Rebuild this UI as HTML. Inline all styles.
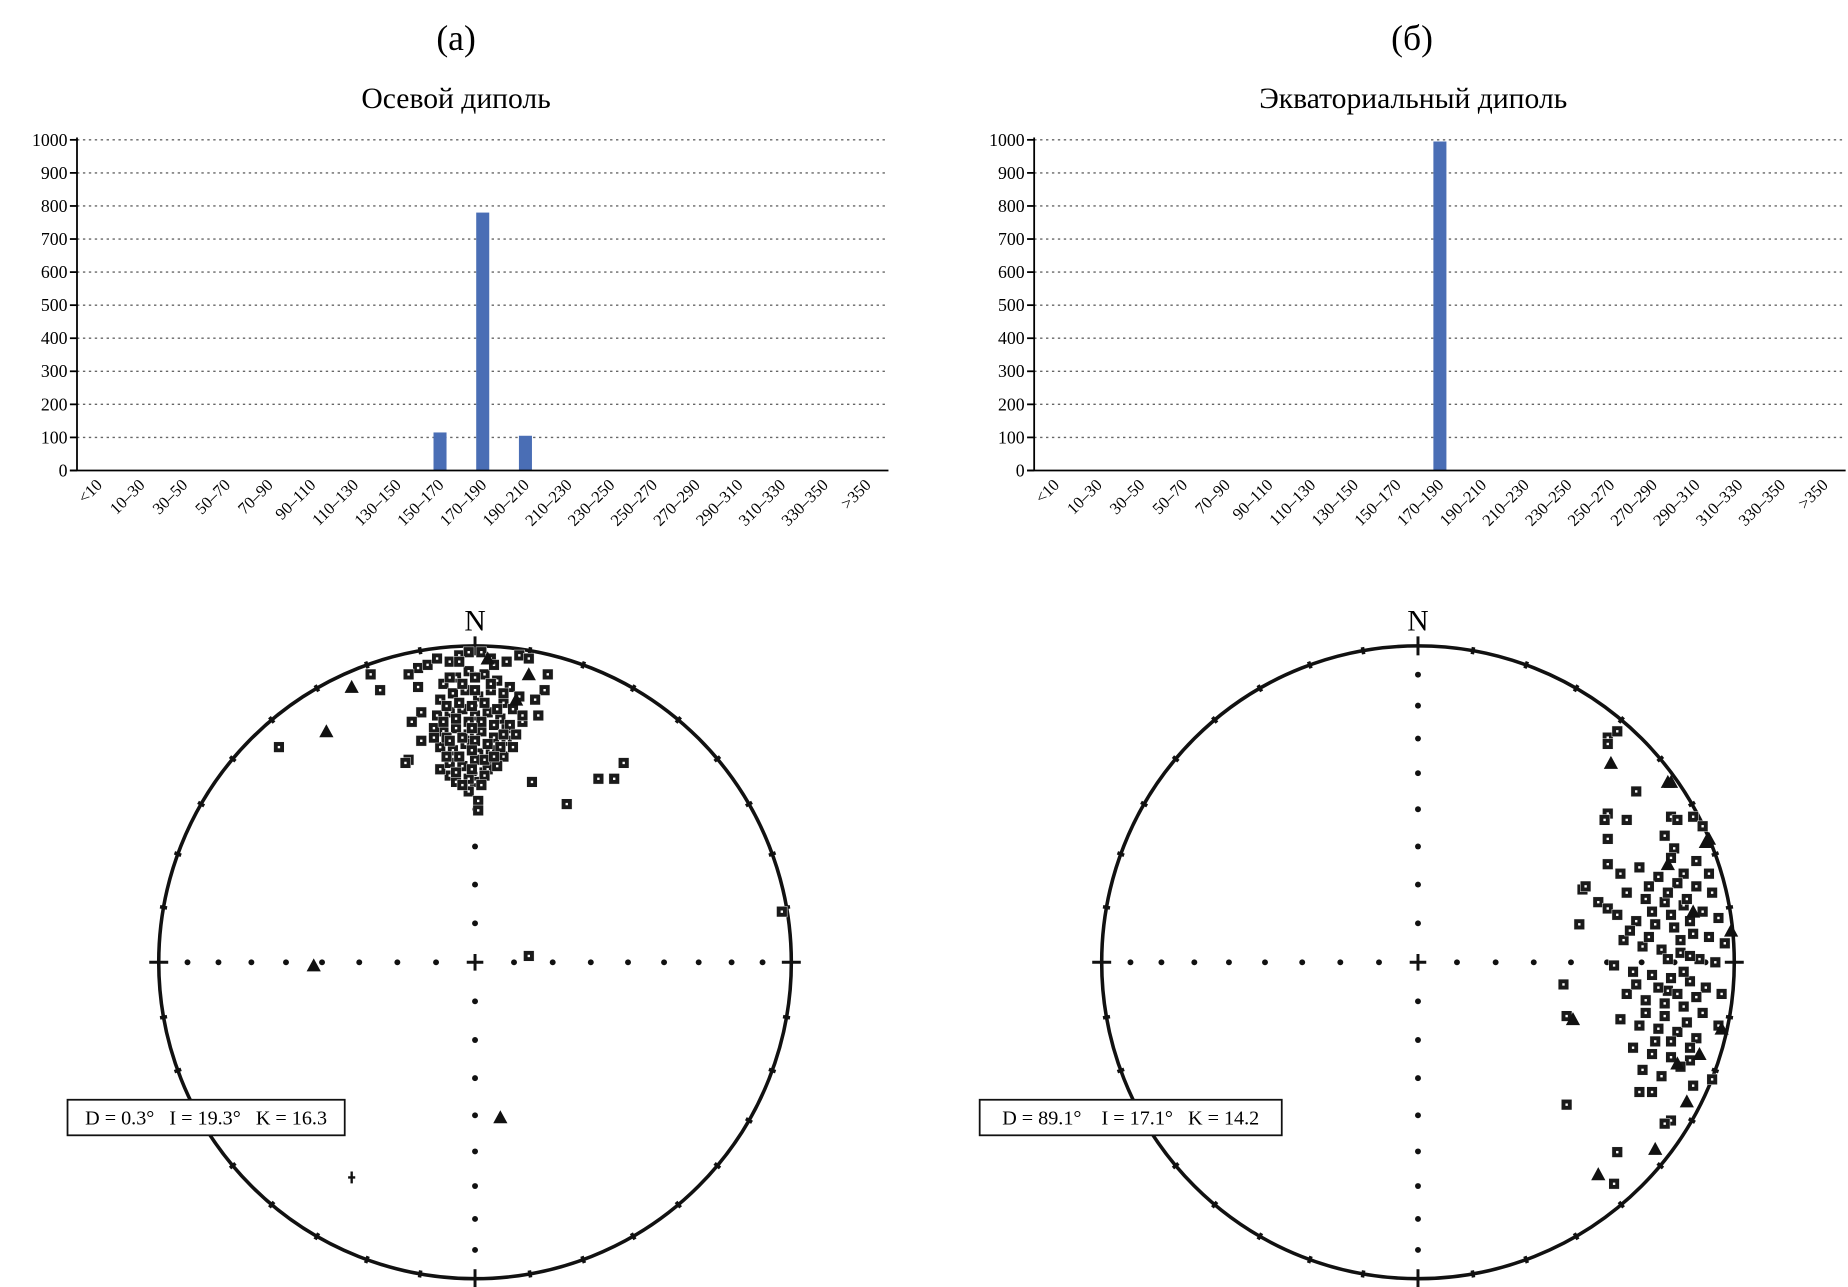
<!DOCTYPE html>
<html><head><meta charset="utf-8"><style>
html,body{margin:0;padding:0;background:#fff;}
svg{display:block;font-family:"Liberation Serif",serif;}
</style></head><body>
<svg id="fig" width="1848" height="1287" viewBox="0 0 1560 1086" preserveAspectRatio="none" xmlns="http://www.w3.org/2000/svg">
<text x="385" y="42" font-size="30" text-anchor="middle">(a)</text>
<text x="1192" y="42" font-size="30" text-anchor="middle">(б)</text>
<text x="385" y="91" font-size="25" text-anchor="middle">Осевой диполь</text>
<text x="1193" y="91" font-size="25" text-anchor="middle">Экваториальный диполь</text>
<g id="charts"></g>
<g id="nets"></g>
</svg>
<script>
const categories = ["<10","10–30","30–50","50–70","70–90","90–110","110–130","130–150","150–170","170–190","190–210","210–230","230–250","250–270","270–290","290–310","310–330","330–350",">350"];
const valuesA = [0,0,0,0,0,0,0,0,115,780,105,0,0,0,0,0,0,0,0];
const valuesB = [0,0,0,0,0,0,0,0,0,995,0,0,0,0,0,0,0,0,0];
const yTicks = [0,100,200,300,400,500,600,700,800,900,1000];

// stereonet points in projection units (radius = 100), [east, north]
const squaresA = [[-62,68],[-21,64],[-22,63],[-18,93],[-15,94],[-12,96],[-8,95],[-5,97],[-2,98],[2,98],[5,96],[10,95],[14,97],[17,96],[23,91],[22,86],[19,83],[20,78],[15,76],[10,74],[6,64],[3,60],[0,57],[-2,54],[1,51],[1,48],[-8,59],[-11,61],[-6,57],[18,57],[29,50],[39,58],[44,58],[47,63],[97,16],[17,2],[-33,91],[-30,86],[-21,91],[-18,87],[-17,79],[-20,76],[-17,70],
[-10,88],[-6,90],[-2,92],[3,91],[7,89],[11,87],[-11,83],[-7,85],[-3,86],[1,84],[5,86],[9,82],[12,80],[-12,78],[-8,79],[-4,80],[0,78],[4,79],[8,77],[11,75],[-10,73],[-6,74],[-2,72],[2,73],[6,71],[10,70],[13,72],[-11,68],[-7,67],[-3,69],[1,66],[5,67],[9,65],[-8,63],[-4,62],[0,64],[4,61],[7,62],[-2,58],[3,59],[-9,71],[14,84],[-13,74],[15,78],[-5,95],[6,94],
[-8,90],[-4,88],[0,90],[5,88],[9,85],[-9,81],[-5,82],[-1,81],[3,82],[7,80],[-10,76],[-6,77],[-2,76],[2,76],[6,75],[9,72],[-8,70],[-4,71],[0,70],[4,69],[8,68],[-9,65],[-5,65],[-1,67],[3,64],[6,65],[-6,60],[-1,61],[2,56],[-4,56],[12,68],[-13,71],[0,86],[-1,74]];
const trianglesA = [[-39,87],[-47,73],[4,96],[17,91],[13,83],[-51,-1],[8,-49]];
const crossesA = [[-39,-68]];
const squaresB = [[60,71],[60,69],[63,73],[69,54],[60,47],[59,45],[66,45],[60,39],[60,31],[80,46],[82,45],[87,46],[90,43],[78,40],[81,36],[80,33],[88,32],[84,28],[52,23],[53,24],[57,19],[60,17],[51,12],[46,-7],[47,-17],[47,-45],[63,-60],[62,-70],[80,-50],[78,-51],[74,-41],[70,-41],[87,-39],[93,-37],
[64,28],[70,30],[76,27],[82,25],[88,24],[93,22],[66,22],[72,20],[78,19],[84,18],[90,16],[95,14],[63,15],[69,13],[75,12],[81,11],[87,9],[92,8],[97,6],[65,7],[71,5],[77,4],[83,3],[89,1],[94,0],[62,-1],[68,-3],[74,-4],[80,-5],[86,-6],[91,-8],[96,-10],[66,-10],[72,-12],[78,-13],[84,-14],[90,-16],[64,-18],[70,-20],[76,-21],[82,-22],[88,-24],[68,-27],[74,-29],[80,-30],[86,-31],[71,-34],[77,-36],[83,-33],[95,-20],[92,28],[79,-9],[73,8],[85,20],
[73,24],[79,22],[86,13],[80,15],[74,16],[83,7],[79,1],[86,2],[84,-3],[76,-8],[82,-10],[88,-11],[78,-17],[85,-19],[80,-25],[75,-25],[72,-16],[69,-7],[67,10],[86,-27]];
const trianglesB = [[61,63],[79,57],[80,57],[79,31],[91,38],[92,39],[99,10],[87,16],[49,-18],[96,-21],[89,-29],[82,-32],[85,-44],[75,-59],[57,-67]];
const crossesB = [];
const statsA = "D = 0.3°   I = 19.3°   K = 16.3";
const statsB = "D = 89.1°    I = 17.1°   K = 14.2";

const NS="http://www.w3.org/2000/svg";
function mk(tag, attrs, parent){const e=document.createElementNS(NS,tag);for(const k in attrs)e.setAttribute(k,attrs[k]);parent.appendChild(e);return e;}

function bar(x0, values, prefix){
  const g=document.getElementById('charts');
  const left=x0, right=x0+685, y0=397, y1=118;
  const band=(right-left)/categories.length;
  const yS=v=>y0-(v/1000)*(y0-y1);
  const xS=i=>left+band*(i+0.5);
  yTicks.forEach(t=>{
    if(t>0){const l=mk('line',{x1:left,x2:right,y1:yS(t),y2:yS(t),stroke:'#666','stroke-width':1.2,'stroke-dasharray':'2 3'},g);
    
    }
    const tk=mk('line',{x1:left-6,x2:left,y1:yS(t),y2:yS(t),stroke:'#000','stroke-width':1.5},g);
    
    
    const tx=mk('text',{x:left-8,y:yS(t)+5,'font-size':15,'text-anchor':'end'},g);tx.textContent=t;
    
    
  });
  values.forEach((v,i)=>{
    if(v<=0)return;
    const r=mk('rect',{x:xS(i)-5.5,y:yS(v),width:11,height:y0-yS(v),fill:'#4a6eb5'},g);
    
    
  });
  const ya=mk('line',{x1:left,x2:left,y1:y1-2,y2:y0,stroke:'#000','stroke-width':1.5},g);
  
  
  const xa=mk('line',{x1:left-6,x2:right,y1:y0,y2:y0,stroke:'#000','stroke-width':1.5},g);
  
  
  categories.forEach((c,i)=>{
    const x=xS(i)+4,y=y0+13;
    const t=mk('text',{x:x,y:y,'font-size':14,'text-anchor':'end',transform:`rotate(-45 ${x} ${y})`},g);t.textContent=c;
    
    
  });
}
bar(65,valuesA,'chart-a');
bar(873,valuesB,'chart-b');

function net(cx, cy, sq, tri, cr, stats, boxX, boxW, prefix){
  const g=document.getElementById('nets');
  const R=267;
  const P=p=>[cx+p[0]/100*R, cy-p[1]/100*R];
  const c=mk('circle',{cx:cx,cy:cy,r:R,fill:'none',stroke:'#111','stroke-width':3},g);
  
  
  for(let a=0;a<360;a+=10){
    const rad=a*Math.PI/180, s=Math.sin(rad), co=Math.cos(rad);
    const big=a%90===0;
    const l=mk('line',{x1:cx+s*(R-(big?8:3)),y1:cy-co*(R-(big?8:3)),x2:cx+s*(R+(big?8:3)),y2:cy-co*(R+(big?8:3)),stroke:'#111','stroke-width':big?2.5:3},g);
    
    
  }
  for(let inc=10;inc<90;inc+=10){
    const r=R*Math.SQRT2*Math.sin((90-inc)/2*Math.PI/180);
    [[r,0],[-r,0],[0,r],[0,-r]].forEach(d=>{
      const dt=mk('circle',{cx:cx+d[0],cy:cy+d[1],r:2.5,fill:'#111'},g);
      
      
    });
  }
  const cc=mk('path',{d:`M${cx-7} ${cy}H${cx+7}M${cx} ${cy-7}V${cy+7}`,stroke:'#111','stroke-width':2.5},g);
  
  
  const n=mk('text',{x:cx,y:cy-280,'font-size':25,'text-anchor':'middle'},g);n.textContent='N';
  
  
  sq.forEach(p=>{const [x,y]=P(p);
    const r=mk('rect',{x:x-4.5,y:y-4.5,width:9,height:9,fill:'#1a1a1a',stroke:'#fff','stroke-width':0.4},g);
    
    
    mk('rect',{x:x-1,y:y-1,width:2,height:2,fill:'#fff'},g);
  });
  tri.forEach(p=>{const [x,y]=P(p);
    const t=mk('polygon',{points:`${x},${y-6} ${x-6},${y+5} ${x+6},${y+5}`,fill:'#111'},g);
    
    
  });
  cr.forEach(p=>{const [x,y]=P(p);
    const t=mk('path',{d:`M${x-3} ${y}H${x+3}M${x} ${y-5}V${y+5}`,stroke:'#111','stroke-width':2},g);
    
    
  });
  const b=mk('rect',{x:boxX,y:928,width:boxW,height:30,fill:'#fff',stroke:'#111','stroke-width':1.5},g);
  
  
  const st=mk('text',{x:boxX+boxW/2,y:949,'font-size':17,'text-anchor':'middle'},g);
  st.setAttribute('style','white-space:pre');
  st.textContent=stats;
  
  
}
net(401,812,squaresA,trianglesA,crossesA,statsA,57,234,'net-a');
net(1197,812,squaresB,trianglesB,crossesB,statsB,827,255,'net-b');
</script>
</body></html>
